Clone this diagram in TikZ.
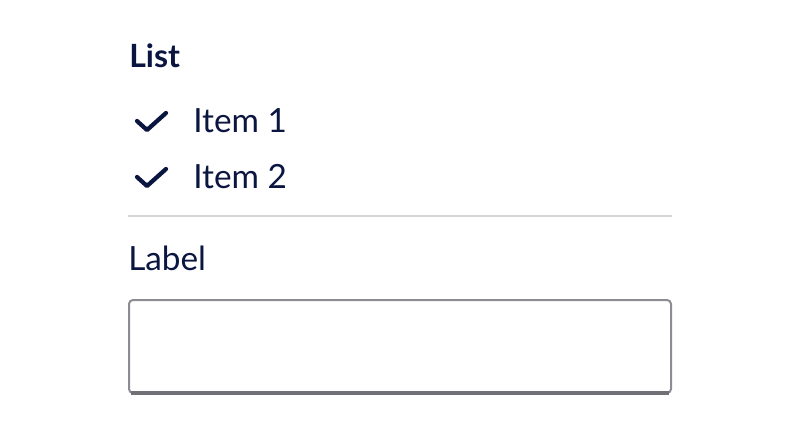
\documentclass[tikz,border=0pt]{standalone}
\usepackage{fontspec}
\setmainfont{Lato}
\definecolor{navy}{HTML}{0B1640}
\definecolor{divider}{HTML}{D4D4D8}
\definecolor{boxborder}{HTML}{8C8C94}
\begin{document}
\begin{tikzpicture}[x=0.75pt,y=-0.75pt,
  txt/.style={anchor=base west,inner sep=0pt,text=navy,font=\fontsize{25}{29}\selectfont},
  check/.style={draw=navy,line width=3.2pt,line cap=round,line join=round}]
\useasboundingbox (0,0) rectangle (800,442);
\node[txt,font=\fontsize{24}{28}\selectfont\bfseries] (title) at (129,68) {List};
\draw[check] (137,121) -- (147,130) -- (166,113);
\node[txt] (i1) at (193,133) {Item 1};
\draw[check] (137,177) -- (147,186) -- (166,169);
\node[txt] (i2) at (193,189) {Item 2};
\draw[divider,line width=1.5pt] (128,216) -- (672,216);
\node[txt] (lab) at (128,271) {Label};
\draw[boxborder,line width=1.5pt,rounded corners=3] (129,300) rectangle (671,393);
\draw[boxborder!80!black,line width=2.6pt] (131,393) -- (669,393);
\end{tikzpicture}
\end{document}
